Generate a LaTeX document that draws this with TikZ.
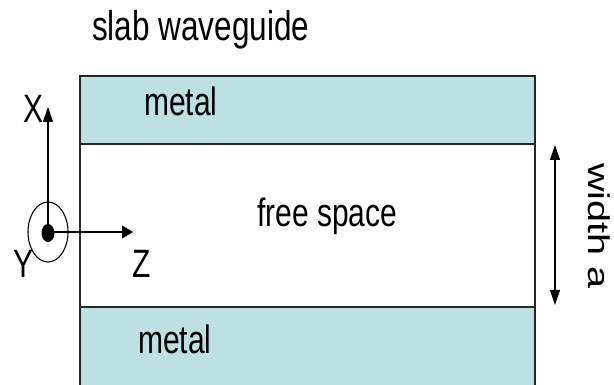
\documentclass[tikz,border=0pt]{standalone}
\usepackage{fontspec}
\setmainfont{Liberation Sans}
\usetikzlibrary{arrows.meta}
\definecolor{metalc}{RGB}{189,224,227}
\newcommand{\tallt}[1]{\scalebox{1}[1.32]{#1}}
\newcommand{\longt}[1]{\scalebox{1.32}[1]{#1}}
\tikzset{
  slab/.style={draw=black!85, line width=1.3pt, fill=metalc},
  gap/.style={draw=black!85, line width=1.3pt, fill=white},
  vaxis/.style={line width=1.1pt, -{Triangle[length=15pt,width=10pt]}},
  haxis/.style={line width=1.1pt, -{Triangle[length=11pt,width=13pt]}},
  dim/.style={line width=1.1pt, {Triangle[length=15pt,width=10pt]}-{Triangle[length=15pt,width=10pt]}},
  lbl/.style={font=\fontsize{30}{33}\selectfont, inner sep=0pt, anchor=base west}
}
\begin{document}
\begin{tikzpicture}[x=1pt,y=-1pt]
\useasboundingbox (0,0) rectangle (614,385);
% slabs
\path[slab] (80,76) rectangle (535,144);
\path[gap] (80,144) rectangle (535,307);
\path[slab] (80,307) rectangle (535,392);
% text
\node[lbl, font=\fontsize{31.5}{34}\selectfont] (title) at (92,41) {\tallt{slab waveguide}};
\node[lbl] (m1) at (144,116) {\tallt{metal}};
\node[lbl] (fs) at (257,227) {\tallt{free space}};
\node[lbl] (m2) at (138,353) {\tallt{metal}};
% axes
\coordinate (o) at (48,232);
\coordinate (xt) at (48,107);
\coordinate (zt) at (133,232);
\draw[line width=1.1pt] (o) ellipse [x radius=20, y radius=30];
\fill (48,233) ellipse [x radius=6.5, y radius=9];
\draw[vaxis] (o) -- (xt);
\draw[haxis] (o) -- (zt);
\node[lbl] (X) at (23,123) {\tallt{X}};
\node[lbl] (Y) at (13,277) {\tallt{Y}};
\node[lbl] (Z) at (132,277) {\tallt{Z}};
% width
\coordinate (wt) at (555,145);
\coordinate (wb) at (555,305);
\draw[dim] (wt) -- (wb);
\node[lbl, rotate=-90] (w) at (588,163) {\longt{width a}};
\end{tikzpicture}
\end{document}
